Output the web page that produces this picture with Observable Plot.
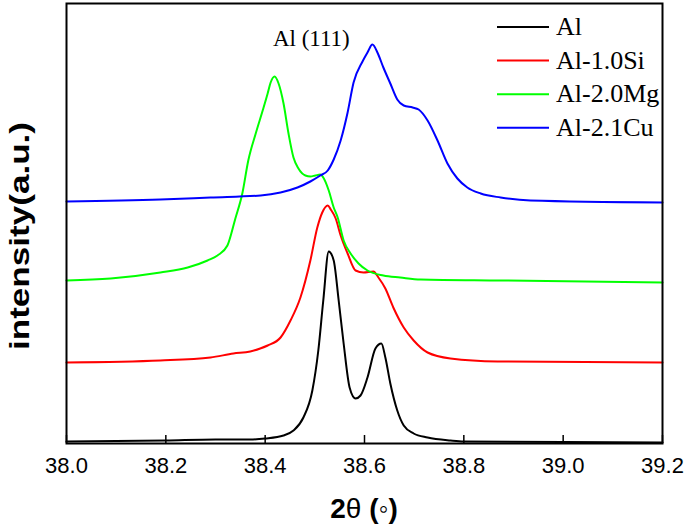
<!DOCTYPE html>
<html><head><meta charset="utf-8">
<script src="https://cdn.jsdelivr.net/npm/d3@7"></script>
<script src="https://cdn.jsdelivr.net/npm/@observablehq/plot@0.6"></script>
<style>body{margin:0;background:#fff;overflow:hidden} #chart{position:relative;width:685px;height:529px}</style>
</head><body><div id="chart"></div>
<script>
const seriesNames = ["Al", "Al-1.0Si", "Al-2.0Mg", "Al-2.1Cu"];
const seriesColors = ["#000000", "#ff0000", "#00ff00", "#0000ff"];

// Al
const alX = [38.0, 38.2, 38.3, 38.37, 38.4, 38.437, 38.457, 38.477, 38.495, 38.507, 38.517, 38.528, 38.538, 38.548, 38.558, 38.570, 38.582, 38.592, 38.606, 38.622, 38.634, 38.642, 38.652, 38.666, 38.679, 38.699, 38.727, 38.773, 38.8, 39.0, 39.2];
const alY = [2, 3, 4, 4, 5, 8, 13, 26, 53, 93, 143, 192, 183, 143, 100, 56, 45, 48, 66, 95, 100, 86, 60, 33, 18, 10, 6, 3, 2, 1.5, 1];
// Al-1.0Si
const siX = [38.0, 38.189, 38.29, 38.336, 38.37, 38.39, 38.405, 38.431, 38.451, 38.471, 38.491, 38.505, 38.515, 38.526, 38.532, 38.542, 38.552, 38.566, 38.582, 38.598, 38.618, 38.628, 38.642, 38.658, 38.679, 38.699, 38.727, 38.773, 38.868, 39.2];
const siY = [81, 83, 86, 90, 92, 95, 98, 106, 123, 146, 183, 216, 231, 238, 234, 225, 208, 190, 173, 171, 172, 166, 155, 136, 116, 103, 91, 85, 82, 81];
// Al-2.0Mg
const mgX = [38.0, 38.089, 38.189, 38.244, 38.284, 38.304, 38.324, 38.34, 38.354, 38.366, 38.381, 38.395, 38.405, 38.411, 38.419, 38.427, 38.437, 38.447, 38.457, 38.467, 38.481, 38.491, 38.501, 38.511, 38.517, 38.528, 38.538, 38.546, 38.558, 38.572, 38.588, 38.606, 38.638, 38.672, 38.713, 38.874, 39.2];
const mgY = [163, 165, 171, 176, 183, 188, 198, 225, 250, 283, 310, 333, 350, 361, 367, 360, 340, 310, 286, 275, 268, 267, 268, 269, 266, 253, 236, 226, 203, 190, 180, 173, 168, 166, 164, 163, 161];
// Al-2.1Cu
const cuX = [38.0, 38.189, 38.29, 38.391, 38.431, 38.465, 38.491, 38.511, 38.526, 38.538, 38.552, 38.566, 38.578, 38.596, 38.606, 38.616, 38.626, 38.638, 38.652, 38.666, 38.679, 38.697, 38.709, 38.727, 38.747, 38.767, 38.787, 38.807, 38.834, 38.874, 38.934, 39.2];
const cuY = [242, 244, 246, 248, 251, 256, 262, 268, 273, 284, 303, 331, 361, 382, 391, 399, 391, 376, 360, 344, 338, 336, 334, 323, 303, 280, 265, 256, 250, 246, 243, 241];

const xTicks = [38.0, 38.2, 38.4, 38.6, 38.8, 39.0, 39.2];
const annText = ["Al (111)"];
const annX = [38.493];
const annY = [405];
const yTitle = "intensity(a.u.)";
const xTitleParts = [["2", "bold"], ["θ", "normal"], [" (", "bold"], ["◦", "normal"], [")", "bold"]];

const rows = [];
[[alX, alY], [siX, siY], [mgX, mgY], [cuX, cuY]].forEach(([xs, ys], i) =>
  xs.forEach((x, j) => rows.push({series: seriesNames[i], x, y: ys[j]})));
const ann = annText.map((t, i) => ({t, x: annX[i], y: annY[i]}));

const plot = Plot.plot({
  width: 685, height: 529,
  marginLeft: 66, marginRight: 23, marginTop: 3, marginBottom: 86,
  style: {fontFamily: "'Liberation Sans', Arial, sans-serif", fontSize: "22px", background: "#fff", color: "#000", overflow: "visible"},
  x: {domain: [38, 39.2]},
  y: {domain: [0, 440], axis: null},
  color: {domain: seriesNames, range: seriesColors},
  marks: [
    Plot.line(rows, {x: "x", y: "y", z: "series", stroke: "series", strokeWidth: 2, curve: "monotone-x"}),
    Plot.axisX(xTicks, {tickSize: 8, dy: -8, strokeWidth: 1.5, tickFormat: () => "", label: null}),
    Plot.axisX(xTicks, {tickSize: 0, tickPadding: 14, fontSize: 22, tickFormat: d => d.toFixed(1), label: null}),
    Plot.frame({stroke: "#000", strokeWidth: 2}),
    Plot.text(ann, {x: "x", y: "y", text: "t", fontFamily: "'Liberation Serif', 'Times New Roman', serif", fontSize: 23})
  ]
});

const svg = d3.select(plot);

// y title
svg.append("text").attr("transform", "translate(29,350) rotate(-90)").attr("text-anchor", "start")
  .attr("textLength", 228).attr("lengthAdjust", "spacingAndGlyphs")
  .style("font-family", "'Liberation Sans', Arial, sans-serif").style("font-size", "27px").style("font-weight", "bold")
  .attr("fill", "#000").text(yTitle);

// legend
const lg = svg.append("g").attr("aria-label", "legend");
seriesNames.forEach((n, i) => {
  const yy = 27 + i * 33.6;
  lg.append("line").attr("x1", 497).attr("x2", 549).attr("y1", yy).attr("y2", yy)
    .attr("stroke", seriesColors[i]).attr("stroke-width", 2);
  lg.append("text").attr("x", 556).attr("y", yy + 8).attr("text-anchor", "start")
    .style("font-family", "'Liberation Serif', 'Times New Roman', serif").style("font-size", "26px")
    .attr("fill", "#000").text(n);
});

// x title
const xt = svg.append("text").attr("x", 364).attr("y", 518).attr("text-anchor", "middle")
  .style("font-family", "'Liberation Sans', Arial, sans-serif").style("font-size", "28px").attr("fill", "#000");
xTitleParts.forEach(([t, w]) => xt.append("tspan").attr("font-weight", w).text(t));

document.getElementById("chart").appendChild(plot);
</script>
</body></html>
